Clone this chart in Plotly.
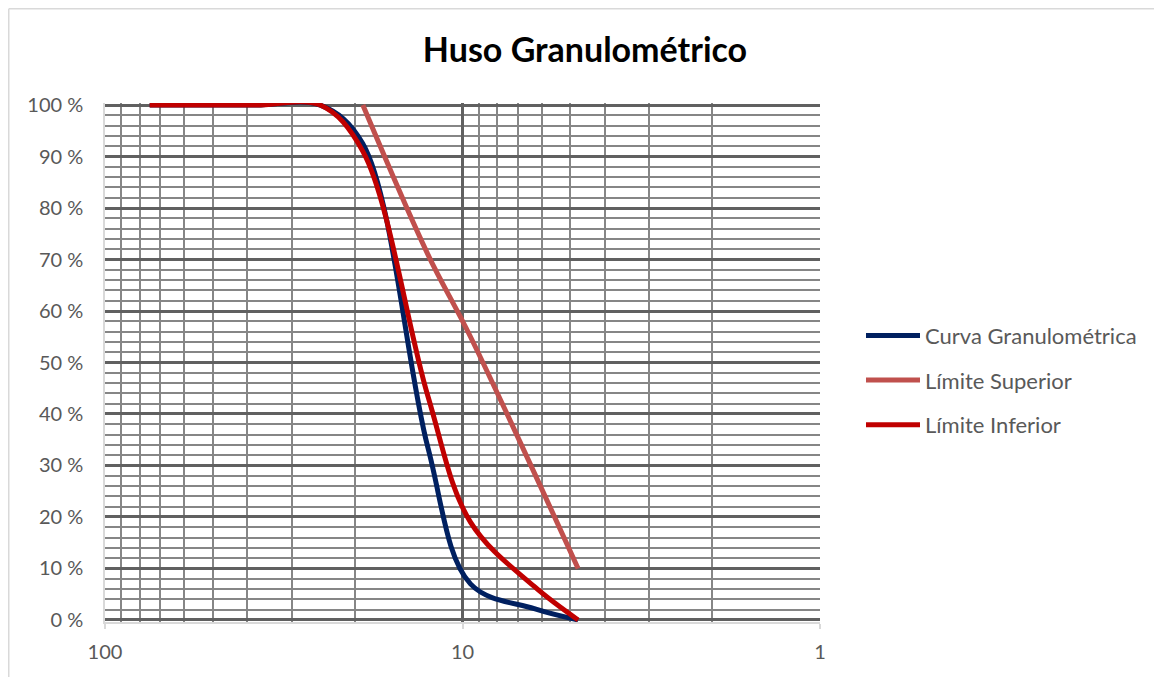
import plotly.graph_objects as go

# Sieve sizes (mm)
sizes = [75, 63, 50, 37.5, 25, 19, 12.5, 9.5, 6.3, 4.75]
curva = [100, 100, 100, 100, 100, 92.5, 33.5, 7, 2.2, 0]
lim_sup = [None, None, None, None, None, 100, 71, 55, None, 10]
lim_inf = [100, 100, 100, 100, 100, 91, 43.5, 19, 6.5, 0]

names = ["Curva Granulométrica", "Límite Superior", "Límite Inferior"]
colors = ["#002060", "#C0504D", "#C00000"]
series = [curva, lim_sup, lim_inf]

y_ticks = list(range(0, 101, 10))
y_labels = [f"{v} %" for v in y_ticks]

FONT = "Lato"
GRAY = "#595959"

L, R, T, B = 97, 350, 95, 63
PW, PH = 1162 - L - R, 677 - T - B

fig = go.Figure()
for i, (nm, col, vals) in enumerate(zip(names, colors, series)):
    fig.add_trace(go.Scatter(
        x=sizes, y=vals, name=nm, mode="lines",
        line=dict(color=col, width=5, shape="spline", smoothing=1.0),
        connectgaps=True, legendgroup=str(i),
    ))

fig.update_layout(
    width=1162, height=677,
    margin=dict(l=L, r=R, t=T, b=B),
    paper_bgcolor="white", plot_bgcolor="white",
    title=dict(text="<b>Huso Granulométrico</b>", x=577 / 1162, xanchor="center",
               y=1 - 42 / 677, yanchor="middle",
               font=dict(family=FONT, size=34, color="black")),
    legend=dict(x=(853 - L) / PW, xanchor="left", y=0.466, yanchor="middle",
                font=dict(family=FONT, size=22, color=GRAY),
                itemwidth=54,
                traceorder="grouped", tracegroupgap=13, bgcolor="rgba(0,0,0,0)"),
    showlegend=True,
)

fig.update_xaxes(
    type="log", range=[2, 0], dtick=1,
    showgrid=True, gridcolor="#606060", gridwidth=2.5,
    minor=dict(dtick="D1", showgrid=True, gridcolor="#868686", gridwidth=1.7,
               ticks=""),
    showline=True, linecolor="#d9d9d9", linewidth=1.5,
    ticks="outside", ticklen=5, tickcolor="#d9d9d9", tickwidth=1.5,
    tickfont=dict(family=FONT, size=20, color=GRAY),
    ticklabelstandoff=6, zeroline=False,
)
fig.update_yaxes(
    range=[-0.4, 100.4], tickvals=y_ticks, ticktext=y_labels,
    showgrid=True, gridcolor="#606060", gridwidth=2.5,
    minor=dict(dtick=2, tick0=0, showgrid=True, gridcolor="#868686", gridwidth=1.7),
    showline=True, linecolor="#d9d9d9", linewidth=1.5,
    tickfont=dict(family=FONT, size=20, color=GRAY),
    ticklabelstandoff=16, zeroline=False,
)

# outer chart border (top and left edges visible)
top_y = 1 + (T - 0.75) / PH
left_x = -(L - 0.75) / PW
fig.add_shape(type="line", xref="paper", yref="paper",
              x0=left_x, x1=1 + (R + 10) / PW, y0=top_y, y1=top_y,
              line=dict(color="#d9d9d9", width=1.5))
fig.add_shape(type="line", xref="paper", yref="paper",
              x0=left_x, x1=left_x, y0=top_y, y1=-(B + 10) / PH,
              line=dict(color="#d9d9d9", width=1.5))

fig.write_html("out.html")
